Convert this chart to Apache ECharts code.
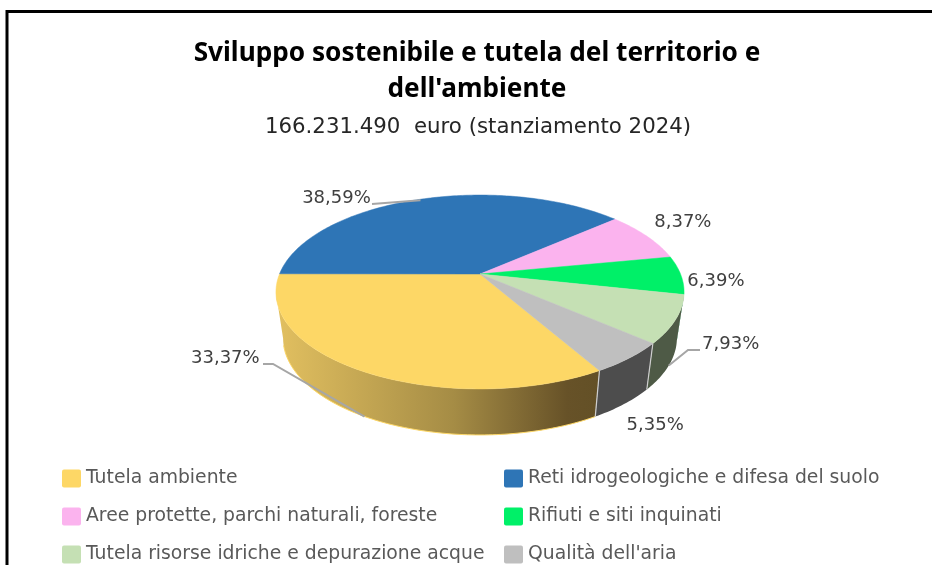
<!DOCTYPE html>
<html>
<head>
<meta charset="utf-8">
<style>
  html, body { margin: 0; padding: 0; background: #fff; }
  #chart { width: 932px; height: 565px; }
</style>
<script src="https://cdn.jsdelivr.net/npm/echarts@6/dist/echarts.min.js"></script>
</head>
<body>
<div id="chart"></div>
<script>
const categories = [
  "Tutela ambiente",
  "Reti idrogeologiche e difesa del suolo",
  "Aree protette, parchi naturali, foreste",
  "Rifiuti e siti inquinati",
  "Tutela risorse idriche e depurazione acque",
  "Qualità dell'aria",
];
const values = [33.37, 38.59, 8.37, 6.39, 7.93, 5.35];
const colors = ["#FDD766", "#2E75B6", "#FBB3EE", "#00F068", "#C5E0B4", "#BFBFBF"];
const wallColors = [null, "#1c4a73", "#9c70a0", "#0B9A52", "#4E5A46", "#4D4D4D"];

// pie geometry: tilted disc seen in perspective
const cx = 480, cy = 274, rx = 200.5, ry = 93.6, persp = 0.1856;
const depth = 46, shrink = 0.965;
const startAngle = 300; // degrees, counted clockwise from here like the source chart

const total = values.reduce((a, b) => a + b, 0);
const slices = [];
let cursor = startAngle;
values.forEach((v) => {
  const sweep = (v / total) * 360;
  slices.push({ from: cursor, to: cursor - sweep, mid: cursor - sweep / 2 });
  cursor -= sweep;
});

function topPoint(deg) {
  const a = (deg * Math.PI) / 180;
  const u = Math.cos(a), v = -Math.sin(a);
  const w = 1 - persp * v;
  return [cx + (rx * u) / w, cy + (ry * v) / w];
}
function bottomPoint(deg) {
  const p = topPoint(deg);
  return [cx + (p[0] - cx) * shrink, p[1] + depth];
}
function arc(from, to, fn) {
  const n = Math.max(2, Math.ceil(Math.abs(to - from)));
  const pts = [];
  for (let i = 0; i <= n; i++) pts.push(fn(from + ((to - from) * i) / n));
  return pts;
}

// only the front of the disc has a visible wall, between the two silhouette angles
function renderWalls() {
  const children = [];
  slices.forEach((s, i) => {
    let hi = s.from, lo = s.to;
    if (hi < 191) { hi += 360; lo += 360; }
    const a = Math.min(hi, 349), b = Math.max(lo, 191);
    if (a <= b) return;
    const pts = arc(a, b, topPoint).concat(arc(b, a, bottomPoint));
    const fill = i === 0
      ? new echarts.graphic.LinearGradient(0, 0, 1, 0, [
          { offset: 0, color: "#E2C060" },
          { offset: 0.55, color: "#A58C45" },
          { offset: 0.9, color: "#675228" },
          { offset: 1, color: "#635026" },
        ])
      : wallColors[i];
    children.push({ type: "polygon", shape: { points: pts }, style: { fill: fill } });
  });
  // yellow rim along the lower edge and pale seams between the walls
  children.push({
    type: "polyline",
    shape: { points: arc(195, 300, bottomPoint) },
    style: { fill: null, stroke: "#FDD766", lineWidth: 1 },
  });
  [slices[0].from, slices[5].from].forEach((deg) => {
    children.push({
      type: "line",
      shape: { x1: topPoint(deg)[0], y1: topPoint(deg)[1], x2: bottomPoint(deg)[0], y2: bottomPoint(deg)[1] },
      style: { stroke: "#CFCFCF", lineWidth: 1.2 },
    });
  });
  return { type: "group", children: children };
}

function renderTop(i) {
  const s = slices[i];
  const pts = [[cx, cy]].concat(arc(s.from, s.to, topPoint));
  return {
    type: "polygon",
    shape: { points: pts },
    style: { fill: colors[i], stroke: colors[i], lineWidth: 0.5 },
  };
}

// label offsets are relative to the slice's rim midpoint
const labelOffsets = [[-135, -12], [-84, -1], [36, -14], [35, 6], [55, 25], [26, 67]];
function renderLabels() {
  const children = [];
  values.forEach((v, i) => {
    const p = topPoint(slices[i].mid);
    children.push({
      type: "text",
      style: {
        text: v.toFixed(2).replace(".", ",") + "%",
        x: p[0] + labelOffsets[i][0],
        y: p[1] + labelOffsets[i][1],
        align: "center",
        verticalAlign: "middle",
        font: '18px "DejaVu Sans"',
        fill: "#404040",
      },
    });
  });
  const lead = (pts) => children.push({
    type: "polyline",
    shape: { points: pts },
    style: { fill: null, stroke: "#A6A6A6", lineWidth: 2 },
  });
  const y = bottomPoint(slices[0].mid);
  lead([[y[0], y[1]], [273, 364], [263, 364]]);
  const g = bottomPoint(slices[4].mid);
  lead([[g[0], g[1]], [688, 350], [700, 350]]);
  const b = topPoint(slices[1].mid);
  lead([[b[0], b[1] + 1], [372, 204]]);
  return { type: "group", children: children };
}

const series = [
  { type: "custom", coordinateSystem: "none", name: "walls", data: [0], silent: true, z: 1, renderItem: renderWalls },
];
categories.forEach((name, i) => {
  series.push({
    type: "custom",
    coordinateSystem: "none",
    name: name,
    data: [values[i]],
    silent: true,
    z: 2,
    itemStyle: { color: colors[i] },
    renderItem: () => renderTop(i),
  });
});
series.push({ type: "custom", coordinateSystem: "none", name: "labels", data: [0], silent: true, z: 3, renderItem: renderLabels });

const legendBase = {
  orient: "vertical",
  top: 469,
  height: 140,
  itemWidth: 19,
  itemHeight: 18,
  itemGap: 19,
  padding: 0,
  icon: "path://M2 0H17Q19 0 19 2V16Q19 18 17 18H2Q0 18 0 16V2Q0 0 2 0Z",
  selectedMode: false,
  textStyle: { color: "#595959", fontFamily: "DejaVu Sans", fontSize: 18.8 },
};

const chart = echarts.init(document.getElementById("chart"), null, { renderer: "canvas" });
chart.setOption({
  animation: false,
  backgroundColor: "#fff",
  title: [
    {
      text: "Sviluppo sostenibile e tutela del territorio e\ndell'ambiente",
      left: 472,
      top: 31,
      textAlign: "center",
      textStyle: { fontFamily: "Noto Sans", fontWeight: "bold", fontSize: 26.2, lineHeight: 36, color: "#000" },
    },
    {
      text: "166.231.490  euro (stanziamento 2024)",
      left: 473,
      top: 112,
      textAlign: "center",
      textStyle: { fontFamily: "DejaVu Sans", fontWeight: "normal", fontSize: 21.3, color: "#262626" },
    },
  ],
  legend: [
    Object.assign({}, legendBase, { left: 62, data: [categories[0], categories[2], categories[4]] }),
    Object.assign({}, legendBase, { left: 504, data: [categories[1], categories[3], categories[5]] }),
  ],
  graphic: [
    {
      type: "polyline",
      silent: true,
      shape: { points: [[7, 565], [7, 11.5], [932, 11.5]] },
      style: { fill: null, stroke: "#000", lineWidth: 3 },
    },
  ],
  series: series,
});
</script>
</body>
</html>
